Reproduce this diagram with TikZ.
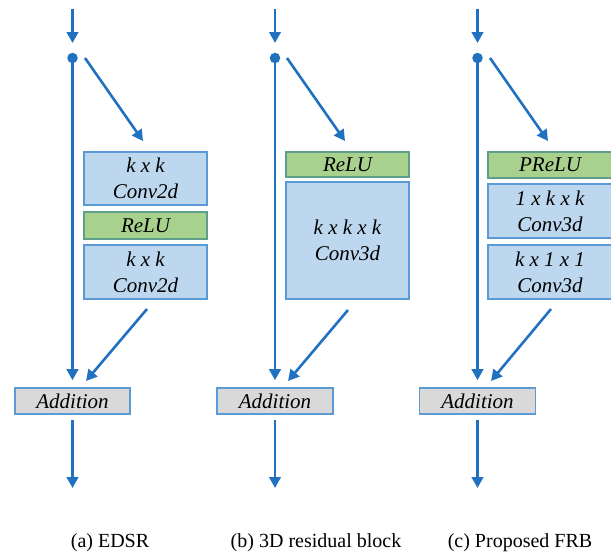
\documentclass[tikz,border=0pt]{standalone}
\usepackage{fontspec}
\setmainfont{Liberation Serif}
\usetikzlibrary{arrows.meta}
\definecolor{lineblue}{HTML}{2171C1}
\definecolor{boxfill}{HTML}{BDD7EE}
\definecolor{boxedge}{HTML}{5B9BD5}
\definecolor{greenfill}{HTML}{A9D18E}
\definecolor{greenedge}{HTML}{5E9E8A}
\definecolor{addfill}{HTML}{D9D9D9}
\tikzset{
  arr/.style={draw=lineblue, line width=2.6pt, -{Triangle[length=11pt,width=11.5pt]}},
  dotnode/.style={circle, fill=lineblue, inner sep=0pt, minimum size=10.5pt},
  bluebox/.style={rectangle, draw=boxedge, fill=boxfill, line width=1.6pt, inner sep=0pt, minimum width=123pt, align=center, font=\fontsize{21}{26}\selectfont\itshape},
  greenbox/.style={rectangle, draw=greenedge, fill=greenfill, line width=1.6pt, inner sep=0pt, minimum width=123pt, align=center, font=\fontsize{21}{26}\selectfont\itshape},
  addbox/.style={rectangle, draw=boxedge, fill=addfill, line width=1.6pt, inner sep=0pt, minimum width=115pt, minimum height=26pt, font=\fontsize{21}{26}\selectfont\itshape},
  caption/.style={font=\fontsize{20}{24}\selectfont, inner sep=0pt}
}
\begin{document}
\begin{tikzpicture}[x=1pt,y=-1pt]
\useasboundingbox (0,0) rectangle (611,554);
% ---------- Panel (a)
\coordinate (aTop) at (72.5,9);
\node[dotnode] (aDot) at (72.5,58) {};
\coordinate (aDs) at (85,58);
\coordinate (aDe) at (143,141);
\node[bluebox, minimum height=53pt] (aC1) at (145.5,178.5) {k x k\\Conv2d};
\node[greenbox, minimum height=27pt] (aR) at (145.5,225.5) {ReLU};
\node[bluebox, minimum height=54pt] (aC2) at (145.5,272) {k x k\\Conv2d};
\coordinate (aUs) at (147,309);
\coordinate (aUe) at (86,381);
\node[addbox] (aAdd) at (72.5,401) {Addition};
\coordinate (aOut) at (72.5,488);
\draw[arr] (aTop) -- ([yshift=15pt]aDot.center);
\draw[arr] (aDot.center) -- ([yshift=7pt]aAdd.north);
\draw[arr] (aDs) -- (aDe);
\draw[arr] (aUs) -- (aUe);
\draw[arr] ([yshift=-5pt]aAdd.south) -- (aOut);
\node[caption] (aCap) at (110,543) {(a) EDSR};
% ---------- Panel (b)
\coordinate (bTop) at (275,9);
\node[dotnode] (bDot) at (275,58) {};
\coordinate (bDs) at (287,58);
\coordinate (bDe) at (345,141);
\node[greenbox, minimum height=25pt] (bR) at (347.5,164.5) {ReLU};
\node[bluebox, minimum height=117pt] (bC) at (347.5,240.5) {k x k x k\\Conv3d};
\coordinate (bUs) at (348,310);
\coordinate (bUe) at (288,381);
\node[addbox, minimum width=116pt] (bAdd) at (275,401) {Addition};
\coordinate (bOut) at (275,488);
\draw[arr] (bTop) -- ([yshift=15pt]bDot.center);
\draw[arr] (bDot.center) -- ([yshift=7pt]bAdd.north);
\draw[arr] (bDs) -- (bDe);
\draw[arr] (bUs) -- (bUe);
\draw[arr] ([yshift=-5pt]bAdd.south) -- (bOut);
\node[caption] (bCap) at (316,543) {(b) 3D residual block};
% ---------- Panel (c)
\coordinate (cTop) at (477.5,9);
\node[dotnode] (cDot) at (477.5,58) {};
\coordinate (cDs) at (490,58);
\coordinate (cDe) at (548,141);
\node[greenbox, minimum width=124pt, minimum height=26pt] (cR) at (550,165) {PReLU};
\node[bluebox, minimum width=124pt, minimum height=54pt] (cC1) at (550,211) {1 x k x k\\Conv3d};
\node[bluebox, minimum width=124pt, minimum height=54pt] (cC2) at (550,272) {k x 1 x 1\\Conv3d};
\coordinate (cUs) at (551,309);
\coordinate (cUe) at (491,381);
\node[addbox, minimum width=116pt] (cAdd) at (477.5,401) {Addition};
\coordinate (cOut) at (477.5,488);
\draw[arr] (cTop) -- ([yshift=15pt]cDot.center);
\draw[arr] (cDot.center) -- ([yshift=7pt]cAdd.north);
\draw[arr] (cDs) -- (cDe);
\draw[arr] (cUs) -- (cUe);
\draw[arr] ([yshift=-5pt]cAdd.south) -- (cOut);
\node[caption] (cCap) at (520,543) {(c) Proposed FRB};
\end{tikzpicture}
\end{document}
